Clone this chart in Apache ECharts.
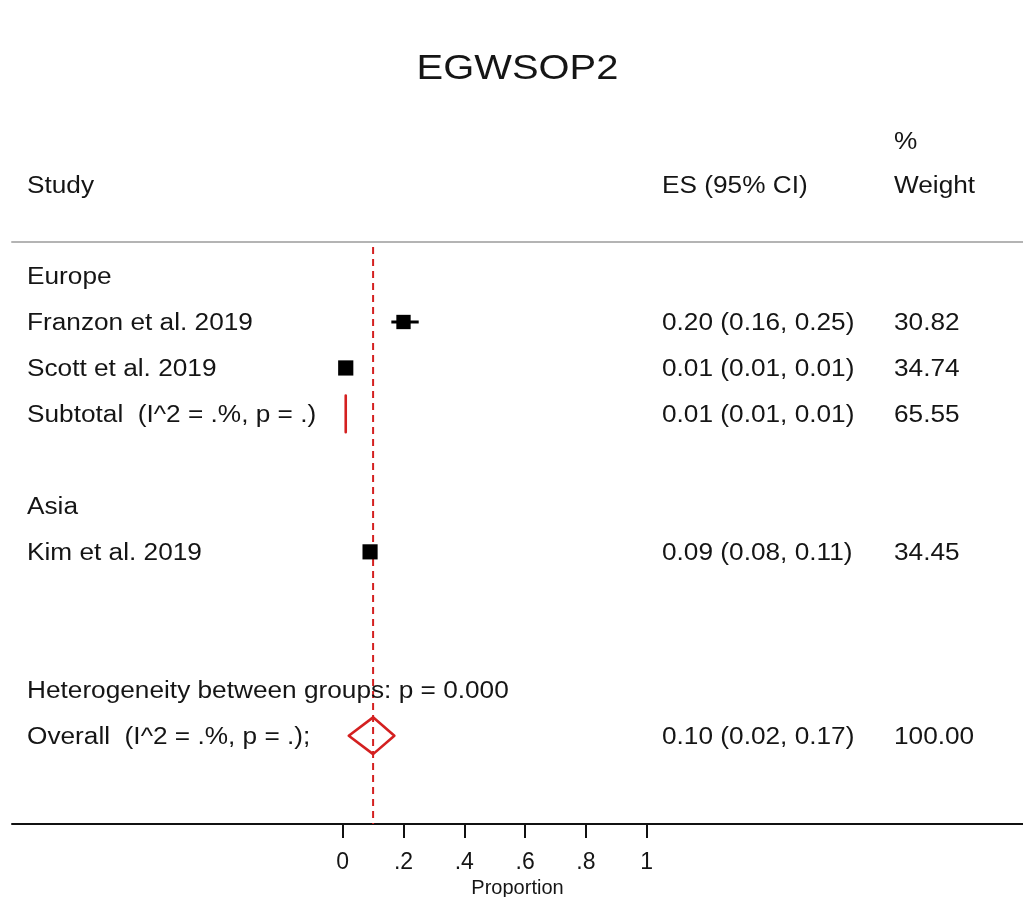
<!DOCTYPE html>
<html>
<head>
<meta charset="utf-8">
<script src="https://cdn.jsdelivr.net/npm/echarts@6/dist/echarts.min.js"></script>
<style>html,body{margin:0;padding:0;background:#fff;overflow:hidden;}#chart{width:1023px;height:897px;}</style>
</head>
<body>
<div id="chart"></div>
<script>
// ---------- data ----------
const chartTitle = 'EGWSOP2';
const groups = ['Europe', 'Asia'];
const studies = ['Franzon et al. 2019', 'Scott et al. 2019', 'Kim et al. 2019'];
const studyGroup = ['Europe', 'Europe', 'Asia'];
const es = [0.20, 0.01, 0.09];
const ciLow = [0.16, 0.01, 0.08];
const ciHigh = [0.25, 0.01, 0.11];
const weights = [30.82, 34.74, 34.45];
const subtotalGroups = ['Europe'];
const subtotalLabels = ['Subtotal  (I^2 = .%, p = .)'];
const subtotalES = [0.01];
const subtotalLow = [0.01];
const subtotalHigh = [0.01];
const subtotalWeight = [65.55];
const heterogeneityText = 'Heterogeneity between groups: p = 0.000';
const overallLabel = 'Overall  (I^2 = .%, p = .);';
const overallES = [0.10];
const overallLow = [0.02];
const overallHigh = [0.17];
const overallWeight = [100.00];
const xTicks = [0, 0.2, 0.4, 0.6, 0.8, 1];
const xTickLabels = ['0', '.2', '.4', '.6', '.8', '1'];
const headers = { study: 'Study', es: 'ES (95% CI)', pct: '%', weight: 'Weight' };
const xAxisName = 'Proportion';

// ---------- layout of rows ----------
const f2 = v => v.toFixed(2);
const esText = (e, l, h) => `${f2(e)} (${f2(l)}, ${f2(h)})`;
const tableRows = [];
const studyPts = [], ciPts = [], diamondPts = [];
let row = 0;
groups.forEach(g => {
  tableRows.push({ row, label: g, es: '', w: '' });
  row++;
  studies.forEach((s, i) => {
    if (studyGroup[i] !== g) return;
    tableRows.push({ row, label: s, es: esText(es[i], ciLow[i], ciHigh[i]), w: f2(weights[i]) });
    studyPts.push([es[i], row, weights[i]]);
    ciPts.push([ciLow[i], ciHigh[i], row]);
    row++;
  });
  const si = subtotalGroups.indexOf(g);
  if (si >= 0) {
    tableRows.push({ row, label: subtotalLabels[si], es: esText(subtotalES[si], subtotalLow[si], subtotalHigh[si]), w: f2(subtotalWeight[si]) });
    diamondPts.push([subtotalES[si], subtotalLow[si], subtotalHigh[si], row]);
  }
  row++; // subtotal slot
  row++; // blank
});
tableRows.push({ row: row, label: heterogeneityText, es: '', w: '' });
row++;
tableRows.push({ row: row, label: overallLabel, es: esText(overallES[0], overallLow[0], overallHigh[0]), w: f2(overallWeight[0]) });
diamondPts.push([overallES[0], overallLow[0], overallHigh[0], row]);

// ---------- styles ----------
const FONT = '"Liberation Sans", Arial, sans-serif';
const TXT = '#151515';
const RED = '#d42020';
const SX = 1.14;
const DY = 2;
const COL_LABEL = 27, COL_ES = 662, COL_W = 894;
const Y_MIN = -0.74, Y_MAX = 11.92;

const chart = echarts.init(document.getElementById('chart'));

function txt(x, y, text, size, align) {
  return {
    type: 'text', x: x, y: y + DY, scaleX: SX,
    style: { text: text, x: 0, y: 0, fill: TXT, fontSize: size, fontFamily: FONT, align: align || 'left', verticalAlign: 'middle' }
  };
}

const xMin = -1.0878, xMax = 2.2378;

chart.setOption({
  animation: false,
  backgroundColor: '#fff',
  grid: { left: 12, right: 0, top: 242, bottom: 73, containLabel: false, outerBoundsMode: 'none' },
  graphic: [
    txt(517.5, 67, chartTitle, 35, 'center'),
    txt(COL_LABEL, 185, headers.study, 23),
    txt(COL_ES, 185, headers.es, 23),
    txt(COL_W, 141, headers.pct, 23),
    txt(COL_W, 185, headers.weight, 23)
  ],
  xAxis: [
    {
      type: 'value', min: xMin, max: xMax, position: 'bottom',
      axisLine: { show: true, onZero: false, lineStyle: { color: '#111', width: 2 } },
      axisTick: { show: true, customValues: xTicks, length: 14, lineStyle: { color: '#111', width: 2 } },
      axisLabel: { show: true, customValues: xTicks, formatter: v => xTickLabels[Math.round(v * 5)], margin: 27, fontSize: 23, color: TXT, fontFamily: FONT },
      splitLine: { show: false },
      name: xAxisName, nameLocation: 'middle', nameGap: 52,
      nameTextStyle: { fontSize: 20, color: TXT, fontFamily: FONT }
    },
    {
      type: 'value', min: xMin, max: xMax, position: 'top',
      axisLine: { show: true, onZero: false, lineStyle: { color: '#b4b4b4', width: 2 } },
      axisTick: { show: false }, axisLabel: { show: false }, splitLine: { show: false }
    }
  ],
  yAxis: {
    type: 'value', inverse: true, min: Y_MIN, max: Y_MAX, show: false,
    splitLine: { show: false }
  },
  series: [
    {
      type: 'custom', name: 'overallLine', clip: false, silent: true,
      encode: { x: 0, y: [1, 2] },
      data: [[overallES[0], Y_MIN + 0.11, Y_MAX]],
      renderItem: (params, api) => {
        const p1 = api.coord([api.value(0), api.value(1)]);
        const p2 = api.coord([api.value(0), api.value(2)]);
        return { type: 'line', shape: { x1: p1[0], y1: p1[1], x2: p2[0], y2: p2[1] }, style: { stroke: RED, lineWidth: 2, lineDash: [7, 5] } };
      },
      z: 1
    },
    {
      type: 'custom', name: 'ci', clip: false,
      encode: { x: [0, 1], y: 2 },
      data: ciPts,
      renderItem: (params, api) => {
        const p1 = api.coord([api.value(0), api.value(2)]);
        const p2 = api.coord([api.value(1), api.value(2)]);
        return { type: 'line', shape: { x1: p1[0], y1: p1[1], x2: p2[0], y2: p2[1] }, style: { stroke: '#000', lineWidth: 3 } };
      },
      z: 3
    },
    {
      type: 'scatter', name: 'es', symbol: 'rect',
      symbolSize: v => Math.sqrt(v[2]) * 2.58,
      itemStyle: { color: '#000', opacity: 1 },
      data: studyPts,
      z: 4
    },
    {
      type: 'custom', name: 'diamond', clip: false,
      encode: { x: [0, 1, 2], y: 3 },
      data: diamondPts,
      renderItem: (params, api) => {
        const r = api.value(3);
        const pE = api.coord([api.value(0), r]);
        const pL = api.coord([api.value(1), r]);
        const pH = api.coord([api.value(2), r]);
        const h = api.size([0, 0.4])[1];
        return {
          type: 'polygon',
          shape: { points: [[pL[0], pL[1]], [pE[0], pE[1] - h], [pH[0], pH[1]], [pE[0], pE[1] + h]] },
          style: { fill: 'none', stroke: RED, lineWidth: 2.6, lineJoin: 'round' }
        };
      },
      z: 5
    },
    {
      type: 'custom', name: 'table', clip: false, silent: true,
      encode: { x: 0, y: 1 },
      data: tableRows.map(r => [0, r.row]),
      renderItem: (params, api) => {
        const y = api.coord([0, api.value(1)])[1];
        const r = tableRows[params.dataIndex];
        const children = [txt(COL_LABEL, y, r.label, 23)];
        if (r.es) children.push(txt(COL_ES, y, r.es, 23));
        if (r.w) children.push(txt(COL_W, y, r.w, 23));
        return { type: 'group', children: children };
      },
      z: 6
    }
  ]
});
</script>
</body>
</html>
